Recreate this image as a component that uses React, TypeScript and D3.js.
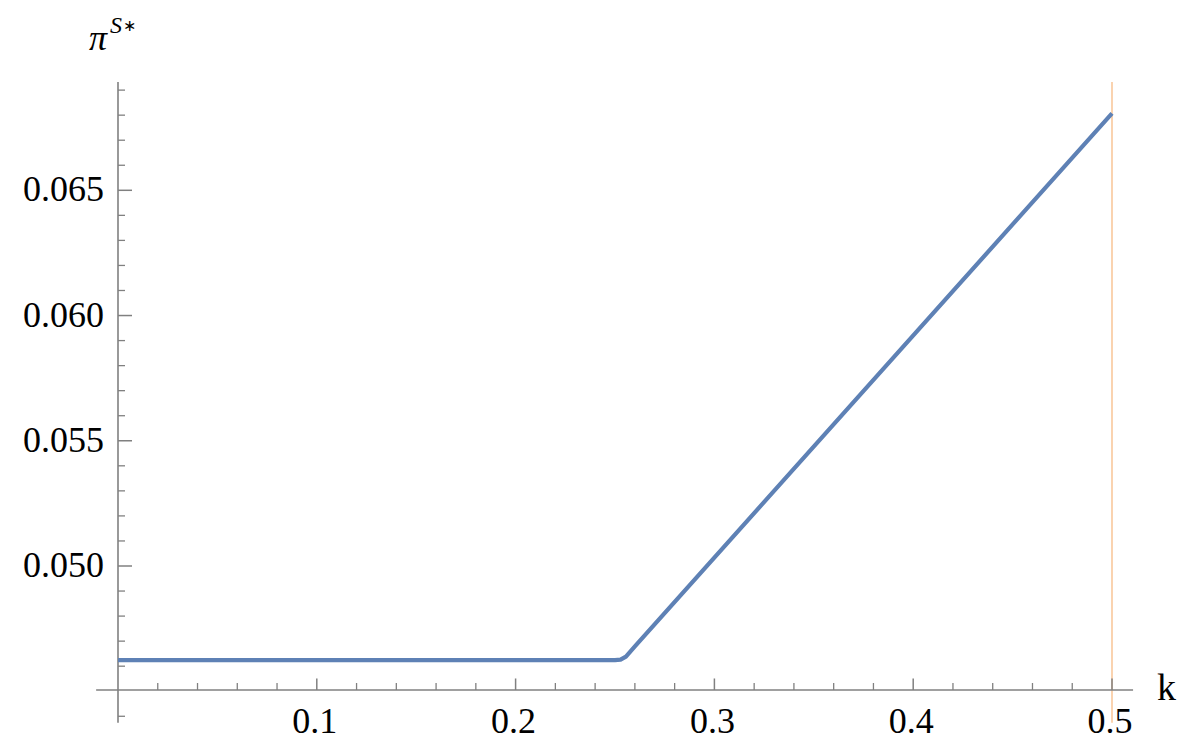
import React from "react";
import * as d3 from "d3";

const kValues = [0, 0.25, 0.2528, 0.2555, 0.26, 0.5];
const piValues = [0.04624, 0.04624, 0.04626, 0.04638, 0.04679, 0.06807];
const xMajorTicks = [0.1, 0.2, 0.3, 0.4, 0.5];
const xTickLabels = ["0.1", "0.2", "0.3", "0.4", "0.5"];
const yMajorTicks = [0.05, 0.055, 0.06, 0.065];
const yTickLabels = ["0.050", "0.055", "0.060", "0.065"];

const W = 1196;
const H = 752;

export default function App() {
  const x = d3.scaleLinear().domain([0, 0.5]).range([118, 1112]);
  const y = d3.scaleLinear().domain([0.05, 0.065]).range([566, 190.3]);

  const xDomainMin = -0.011;
  const xDomainMax = 0.5106;
  const yDomainMin = 0.04374;
  const yDomainMax = 0.06932;
  const xAxisY = y(0.04505);

  const xMinor: number[] = [];
  for (let i = 1; i <= 25; i++) {
    const v = i * 0.02;
    if (i % 5 !== 0) xMinor.push(v);
  }
  const yMinor: number[] = [];
  for (let i = 44; i <= 69; i++) {
    if (i % 5 !== 0) yMinor.push(i / 1000);
  }

  const data = kValues.map((k, i) => [k, piValues[i]] as [number, number]);
  const line = d3
    .line<[number, number]>()
    .x((d) => x(d[0]))
    .y((d) => y(d[1]));

  const axisColor = "#808080";
  const font = "'Liberation Serif', 'Times New Roman', serif";

  return (
    <svg
      width={W}
      height={H}
      style={{ position: "absolute", left: 0, top: 0, background: "#fff" }}
    >
      {/* orange vertical line at k = 0.5 */}
      <line
        x1={x(0.5)}
        x2={x(0.5)}
        y1={y(yDomainMax)}
        y2={y(yDomainMin)}
        stroke="#f8c08e"
        strokeWidth={1.4}
      />
      {/* x axis */}
      <line
        x1={x(xDomainMin)}
        x2={x(xDomainMax)}
        y1={xAxisY}
        y2={xAxisY}
        stroke={axisColor}
        strokeWidth={1.6}
      />
      {xMinor.map((v) => (
        <line
          key={"xm" + v}
          x1={x(v)}
          x2={x(v)}
          y1={xAxisY}
          y2={xAxisY - 7}
          stroke={axisColor}
          strokeWidth={1.3}
        />
      ))}
      {xMajorTicks.map((v, i) => (
        <g key={"xM" + v}>
          <line
            x1={x(v)}
            x2={x(v)}
            y1={xAxisY}
            y2={xAxisY - 11.5}
            stroke={axisColor}
            strokeWidth={1.5}
          />
          <text
            x={x(v) - 2}
            y={732.5}
            textAnchor="middle"
            fontFamily={font}
            fontSize={36}
            fill="#000"
          >
            {xTickLabels[i]}
          </text>
        </g>
      ))}
      <text x={1157} y={700} fontFamily={font} fontSize={38} fill="#000">
        k
      </text>
      {/* y axis */}
      <line
        x1={x(0)}
        x2={x(0)}
        y1={y(yDomainMax)}
        y2={y(yDomainMin)}
        stroke={axisColor}
        strokeWidth={1.6}
      />
      {yMinor.map((v) => (
        <line
          key={"ym" + v}
          x1={x(0)}
          x2={x(0) + 7}
          y1={y(v)}
          y2={y(v)}
          stroke={axisColor}
          strokeWidth={1.3}
        />
      ))}
      {yMajorTicks.map((v, i) => (
        <g key={"yM" + v}>
          <line
            x1={x(0)}
            x2={x(0) + 14}
            y1={y(v)}
            y2={y(v)}
            stroke={axisColor}
            strokeWidth={1.5}
          />
          <text
            x={104}
            y={y(v) + 11}
            textAnchor="end"
            fontFamily={font}
            fontSize={36}
            fill="#000"
          >
            {yTickLabels[i]}
          </text>
        </g>
      ))}
      {/* y label */}
      <text x={89} y={50} fontFamily={font} fill="#000">
        <tspan fontStyle="italic" fontSize={36}>
          π
        </tspan>
        <tspan fontStyle="italic" fontSize={24} dx={3} dy={-17}>
          S
        </tspan>
        <tspan fontSize={16} dx={1} dy={-2}>
          ∗
        </tspan>
      </text>
      {/* data line */}
      <path
        d={line(data) || ""}
        fill="none"
        stroke="#5e81b5"
        strokeWidth={4.2}
        strokeLinejoin="round"
        strokeLinecap="butt"
      />
    </svg>
  );
}
